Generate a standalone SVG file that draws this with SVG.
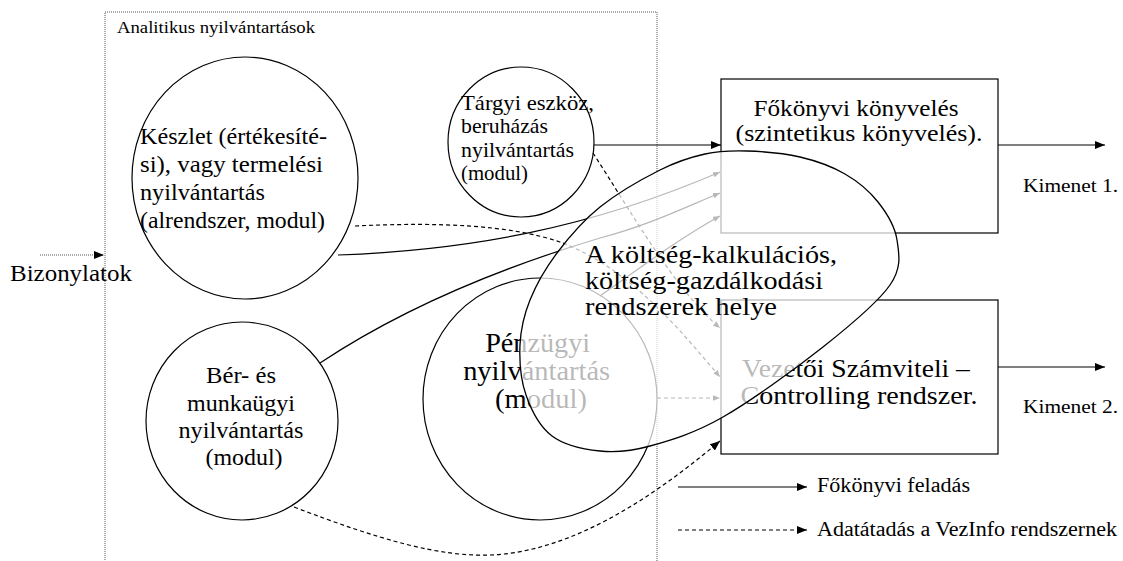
<svg xmlns="http://www.w3.org/2000/svg" width="1123" height="561" viewBox="0 0 1123 561">
  <style>
    .t { font-family: 'Liberation Serif', Tinos, 'Times New Roman', Times, serif; fill: #000; }
    .node { fill: #fff; stroke: #000; stroke-width: 1.2; }
    .ln { fill: none; stroke: #000; stroke-width: 1.2; }
    .dash { stroke-dasharray: 4 3; }
    .dot { fill: none; stroke: #555; stroke-width: 1; stroke-dasharray: 1 1; }
  </style>
  <defs>
    <marker id="ah" viewBox="0 0 10 8" refX="10" refY="4" markerWidth="10" markerHeight="8" markerUnits="userSpaceOnUse" orient="auto">
      <path d="M0,0 L10,4 L0,8 z" fill="#000"/>
    </marker>
    <marker id="ahs" viewBox="0 0 10 8" refX="10" refY="4" markerWidth="7" markerHeight="6" markerUnits="userSpaceOnUse" orient="auto">
      <path d="M0,0 L10,4 L0,8 z" fill="#000"/>
    </marker>
  </defs>
  <rect width="1123" height="561" fill="#fff"/>

  <!-- analytic records frame -->
  <g id="analitikus">
    <rect class="dot" x="105" y="12" width="552" height="570"/>
    <text class="t" x="117" y="33" font-size="16" textLength="198" lengthAdjust="spacingAndGlyphs">Analitikus nyilvántartások</text>
  </g>

  <!-- inputs -->
  <g id="bizonylatok">
    <text class="t" x="10" y="281" font-size="24" textLength="122" lengthAdjust="spacingAndGlyphs">Bizonylatok</text>
  </g>

  <!-- modules -->
  <g id="keszlet">
    <ellipse class="node" cx="245" cy="178" rx="113" ry="121"/>
    <text class="t" font-size="24">
      <tspan x="140" y="144" textLength="187" lengthAdjust="spacingAndGlyphs">Készlet (értékesíté-</tspan>
      <tspan x="140" y="172" textLength="183" lengthAdjust="spacingAndGlyphs">si), vagy termelési</tspan>
      <tspan x="140" y="200" textLength="125" lengthAdjust="spacingAndGlyphs">nyilvántartás</tspan>
      <tspan x="140" y="228" textLength="185" lengthAdjust="spacingAndGlyphs">(alrendszer, modul)</tspan>
    </text>
  </g>

  <g id="targyi">
    <ellipse class="node" cx="521" cy="142" rx="73" ry="75"/>
    <text class="t" font-size="22">
      <tspan x="461" y="110" textLength="133" lengthAdjust="spacingAndGlyphs">Tárgyi eszköz,</tspan>
      <tspan x="461" y="133" textLength="87" lengthAdjust="spacingAndGlyphs">beruházás</tspan>
      <tspan x="461" y="157" textLength="113" lengthAdjust="spacingAndGlyphs">nyilvántartás</tspan>
      <tspan x="461" y="180" textLength="67" lengthAdjust="spacingAndGlyphs">(modul)</tspan>
    </text>
  </g>

  <g id="ber">
    <ellipse class="node" cx="242" cy="421" rx="96" ry="99"/>
    <text class="t" font-size="24" text-anchor="middle">
      <tspan x="244" y="383" textLength="70" lengthAdjust="spacingAndGlyphs">Bér- és</tspan>
      <tspan x="244" y="411" textLength="108" lengthAdjust="spacingAndGlyphs">munkaügyi</tspan>
      <tspan x="244" y="438" textLength="125" lengthAdjust="spacingAndGlyphs">nyilvántartás</tspan>
      <tspan x="244" y="465" textLength="77" lengthAdjust="spacingAndGlyphs">(modul)</tspan>
    </text>
  </g>

  <g id="penzugyi">
    <ellipse class="node" cx="540" cy="399" rx="117" ry="121"/>
    <text class="t" font-size="27" text-anchor="middle">
      <tspan x="541" y="352" textLength="105" lengthAdjust="spacingAndGlyphs">Pénzügyi</tspan>
      <tspan x="540" y="380" textLength="147" lengthAdjust="spacingAndGlyphs">nyilvántartás</tspan>
      <tspan x="541" y="408" textLength="92" lengthAdjust="spacingAndGlyphs">(modul)</tspan>
    </text>
  </g>

  <!-- ledger systems -->
  <g id="fokonyvi">
    <rect class="node" x="721" y="79" width="277" height="154"/>
    <text class="t" font-size="24" text-anchor="middle">
      <tspan x="859" y="116" textLength="205" lengthAdjust="spacingAndGlyphs">Főkönyvi könyvelés</tspan>
      <tspan x="859" y="141" textLength="247" lengthAdjust="spacingAndGlyphs">(szintetikus könyvelés).</tspan>
    </text>
  </g>

  <g id="vezetoi">
    <rect class="node" x="721" y="300" width="277" height="154"/>
    <text class="t" font-size="25" text-anchor="middle">
      <tspan x="859" y="377" textLength="228" lengthAdjust="spacingAndGlyphs">Vezetői Számviteli –</tspan>
      <tspan x="859" y="404" textLength="237" lengthAdjust="spacingAndGlyphs">Controlling rendszer.</tspan>
    </text>
  </g>

  <!-- outputs -->
  <g id="kimenet">
    <text class="t" x="1023" y="192" font-size="19" textLength="95" lengthAdjust="spacingAndGlyphs">Kimenet 1.</text>
    <text class="t" x="1023" y="413" font-size="19" textLength="95" lengthAdjust="spacingAndGlyphs">Kimenet 2.</text>
  </g>

  <!-- connectors -->
  <g id="connectors">
    <line class="dot" x1="40" y1="255" x2="104" y2="255" marker-end="url(#ah)"/>
    <!-- general ledger postings -->
    <line class="ln" x1="594" y1="145" x2="721" y2="145" marker-end="url(#ah)"/>
    <path class="ln" d="M338,255 C470,250 590,228 720,172" marker-end="url(#ahs)"/>
    <path class="ln" d="M320,363 C430,290 560,250 600,238 C650,225 690,205 720,193" marker-end="url(#ahs)"/>
    <path class="ln" d="M600,296 C640,268 680,238 720,216" marker-end="url(#ahs)"/>
    <!-- management data transfer -->
    <path class="ln dash" d="M355,226 C440,222 510,225 560,242 C630,268 680,330 720,377" marker-end="url(#ahs)"/>
    <path class="ln dash" d="M593,153 C630,210 675,290 720,328" marker-end="url(#ahs)"/>
    <line class="ln dash" x1="657" y1="398" x2="720" y2="398" marker-end="url(#ahs)"/>
    <path class="ln dash" d="M294,507 C380,540 440,557 490,555 C570,552 650,500 720,441" marker-end="url(#ah)"/>
    <!-- outputs -->
    <line class="ln" x1="998" y1="145" x2="1105" y2="145" marker-end="url(#ah)"/>
    <line class="ln" x1="998" y1="367" x2="1105" y2="367" marker-end="url(#ah)"/>
  </g>

  <!-- cost accounting area, laid over the systems -->
  <g id="koltseg">
    <path d="M747,151 C762.8,151.5 783.7,153.2 800,157 C816.3,160.8 832,166.5 845,174 C858,181.5 869.3,191 878,202 C886.7,213 895,226.2 897,240 C899,253.8 902.3,267.2 890,285 C877.7,302.8 850.8,325 823,347 C795.2,369 751.8,400.5 723,417 C694.2,433.5 670.5,440.3 650,446 C629.5,451.7 616.3,452.7 600,451 C583.7,449.3 564.3,445.3 552,436 C539.7,426.7 531.3,410.2 526,395 C520.7,379.8 519.3,360.8 520,345 C520.7,329.2 523.8,315.3 530,300 C536.2,284.7 545.3,268.5 557,253 C568.7,237.5 582.8,220.8 600,207 C617.2,193.2 642.5,178.8 660,170 C677.5,161.2 690.5,157.2 705,154 C719.5,150.8 731.2,150.5 747,151 Z" fill="#fff" fill-opacity="0.72" stroke="#000" stroke-width="1.3"/>
    <text class="t" font-size="25">
      <tspan x="585" y="263" textLength="252" lengthAdjust="spacingAndGlyphs">A költség-kalkulációs,</tspan>
      <tspan x="585" y="289" textLength="238" lengthAdjust="spacingAndGlyphs">költség-gazdálkodási</tspan>
      <tspan x="585" y="315" textLength="192" lengthAdjust="spacingAndGlyphs">rendszerek helye</tspan>
    </text>
  </g>

  <!-- legend -->
  <g id="legend">
    <line class="ln" x1="678" y1="487" x2="807" y2="487" marker-end="url(#ah)"/>
    <text class="t" x="817" y="492" font-size="20" textLength="153" lengthAdjust="spacingAndGlyphs">Főkönyvi feladás</text>
    <line class="ln dash" x1="678" y1="530" x2="807" y2="530" marker-end="url(#ah)"/>
    <text class="t" x="817" y="536" font-size="20" textLength="300" lengthAdjust="spacingAndGlyphs">Adatátadás a VezInfo rendszernek</text>
  </g>
</svg>
